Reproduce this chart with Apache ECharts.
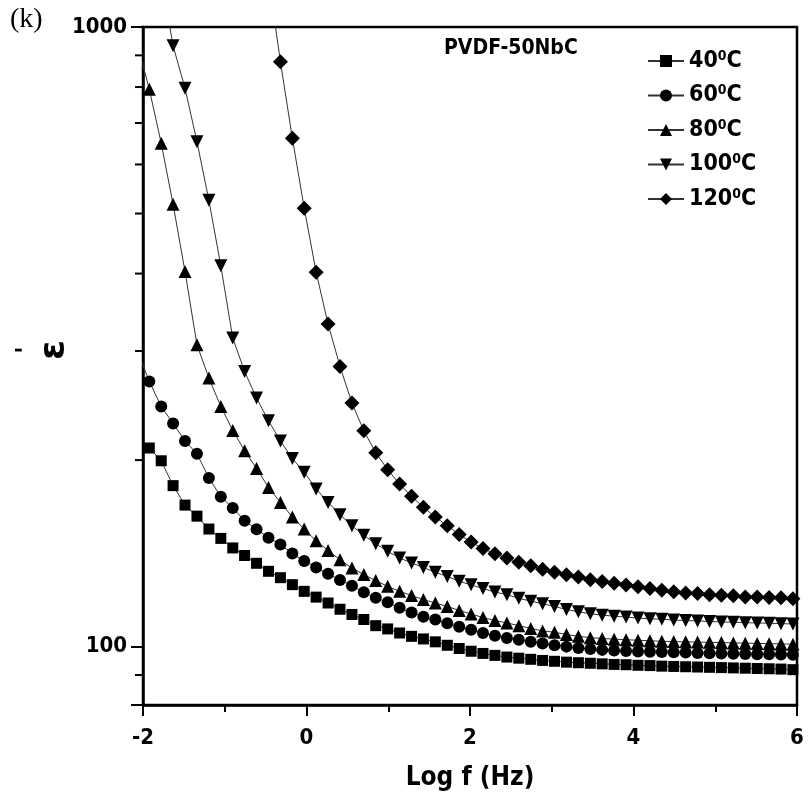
<!DOCTYPE html>
<html><head><meta charset="utf-8">
<script src="https://cdn.jsdelivr.net/npm/echarts@6/dist/echarts.min.js"></script>
<style>html,body{margin:0;padding:0;background:#fff}#c{width:809px;height:811px}</style>
</head><body><div id="c"></div><script>
// log10 of frequency (Hz)
const logF = [-2.069, -1.923, -1.777, -1.632, -1.486, -1.340, -1.194, -1.048, -0.902, -0.757, -0.611, -0.465, -0.319, -0.173, -0.028, 0.118, 0.264, 0.410, 0.556, 0.701, 0.847, 0.993, 1.139, 1.285, 1.430, 1.576, 1.722, 1.868, 2.014, 2.159, 2.305, 2.451, 2.597, 2.743, 2.888, 3.034, 3.180, 3.326, 3.472, 3.617, 3.763, 3.909, 4.055, 4.201, 4.346, 4.492, 4.638, 4.784, 4.930, 5.075, 5.221, 5.367, 5.513, 5.659, 5.804, 5.950];
const eps40 = [null, 209.2, 199.5, 181.9, 169.2, 162.4, 154.8, 149.5, 144.3, 140.3, 136.3, 132.3, 129.2, 125.9, 122.8, 120.2, 117.6, 114.9, 112.7, 110.6, 108.1, 106.8, 105.2, 103.9, 102.9, 101.8, 100.5, 99.3, 98.3, 97.5, 96.8, 96.2, 95.8, 95.4, 95.0, 94.7, 94.4, 94.2, 94.0, 93.8, 93.6, 93.5, 93.3, 93.2, 93.0, 92.9, 92.8, 92.7, 92.6, 92.5, 92.4, 92.3, 92.2, 92.1, 92.0, 91.8];
const eps60 = [300, 267.9, 244.1, 229.2, 214.7, 204.8, 187.1, 174.6, 167.4, 159.7, 154.7, 149.9, 146.1, 141.3, 137.5, 134.2, 131.1, 128.1, 125.4, 122.4, 119.9, 117.9, 115.5, 113.5, 111.7, 110.6, 109.1, 107.7, 106.5, 105.2, 104.1, 103.3, 102.6, 101.8, 101.2, 100.5, 100.0, 99.5, 99.1, 98.8, 98.6, 98.4, 98.2, 98.1, 98.0, 97.9, 97.8, 97.7, 97.6, 97.5, 97.4, 97.3, 97.2, 97.2, 97.1, 97.0];
const eps80 = [940, 793.5, 649.4, 517.3, 403.0, 307.0, 271.3, 244.1, 223.3, 207.1, 193.9, 180.7, 170.9, 161.9, 154.8, 148.2, 142.9, 138.1, 133.9, 130.7, 127.8, 125.1, 122.8, 120.9, 119.1, 117.6, 116.1, 114.4, 112.9, 111.4, 110.2, 109.2, 108.1, 107.0, 106.0, 105.5, 104.6, 103.9, 103.4, 103.1, 102.8, 102.6, 102.4, 102.2, 102.0, 101.9, 101.8, 101.7, 101.6, 101.5, 101.4, 101.3, 101.2, 101.1, 101.0, 100.9];
const eps100 = [null, null, 1200, 932.6, 796.4, 653.1, 525.1, 411.7, 314.8, 278.0, 251.9, 231.5, 214.7, 201.2, 191.2, 179.7, 170.9, 163.3, 156.7, 151.2, 146.6, 142.5, 139.0, 136.5, 134.2, 131.8, 129.8, 127.5, 125.8, 124.1, 122.5, 121.3, 119.7, 118.4, 117.3, 116.1, 114.8, 113.8, 113.0, 112.4, 112.0, 111.6, 111.2, 110.9, 110.7, 110.4, 110.2, 110.0, 109.8, 109.6, 109.5, 109.3, 109.2, 109.1, 108.9, 108.8];
const eps120 = [null, null, null, null, null, null, null, null, null, null, null, 1200, 879.2, 661.5, 510.1, 402.1, 331.5, 283.2, 247.2, 223.1, 205.6, 193.0, 183.0, 174.8, 167.8, 161.9, 156.7, 151.7, 147.5, 144.0, 141.2, 139.0, 136.8, 135.0, 133.3, 131.8, 130.6, 129.5, 128.2, 127.4, 126.5, 125.7, 124.9, 124.1, 123.3, 122.6, 122.1, 121.8, 121.3, 121.0, 120.8, 120.3, 120.3, 120.0, 119.9, 119.5];
const seriesNames = ['40°C', '60°C', '80°C', '100°C', '120°C'];
const xTickLabels = ['-2', '0', '2', '4', '6'];
const yTickLabels = ['100', '1000'];
const yMinorTicks = [90, 200, 300, 400, 500, 600, 700, 800, 900];

const NARROW = "'Liberation Sans Narrow','DejaVu Sans Condensed','Arial Narrow',sans-serif";
const allVals = [eps40, eps60, eps80, eps100, eps120];
const symbols = [
  {symbol: 'rect', size: 11, rotate: 0},
  {symbol: 'circle', size: 12, rotate: 0},
  {symbol: 'triangle', size: 13, rotate: 0},
  {symbol: 'triangle', size: 13, rotate: 180},
  {symbol: 'diamond', size: 15, rotate: 0}
];
function pairs(vals) {
  const out = [];
  logF.forEach((x, i) => { if (vals[i] != null) out.push([x, vals[i]]); });
  return out;
}
const lineSeries = seriesNames.map((n, i) => ({
  name: n, type: 'line', data: pairs(allVals[i]),
  symbol: symbols[i].symbol, symbolSize: symbols[i].size, symbolRotate: symbols[i].rotate,
  showAllSymbol: true, clip: true, z: 3,
  itemStyle: {color: '#000'},
  lineStyle: {color: '#333', width: 1}
}));
const chart = echarts.init(document.getElementById('c'), null, {renderer: 'canvas'});
chart.setOption({
  backgroundColor: '#fff',
  animation: false,
  grid: {left: 143, right: 12, top: 27, bottom: 106, containLabel: false, outerBoundsMode: 'none',
    show: true, borderColor: '#000', borderWidth: 2.5, backgroundColor: 'transparent'},
  xAxis: {
    type: 'value', min: -2, max: 6, interval: 2,
    axisLine: {onZero: false, lineStyle: {color: '#000', width: 2.5}},
    axisTick: {length: 11, lineStyle: {color: '#000', width: 2}},
    minorTick: {show: true, splitNumber: 2, length: 7, lineStyle: {color: '#000', width: 2}},
    splitLine: {show: false},
    axisLabel: {color: '#000', fontSize: 22, fontWeight: 'bold', fontFamily: NARROW, margin: 22,
      formatter: v => { const s = String(Math.round(v)); return xTickLabels.includes(s) ? s : ''; }},
    name: 'Log f (Hz)', nameLocation: 'middle', nameGap: 60, nameMoveOverlap: false,
    nameTextStyle: {color: '#000', fontSize: 26, fontWeight: 'bold', fontFamily: NARROW}
  },
  yAxis: {
    type: 'log', logBase: 10, min: 80.5, max: 1000,
    axisLine: {onZero: false, lineStyle: {color: '#000', width: 2.5}},
    axisTick: {length: 12, lineStyle: {color: '#000', width: 2}},
    splitLine: {show: false},
    axisLabel: {color: '#000', fontSize: 22, fontWeight: 'bold', fontFamily: NARROW, margin: 16,
      formatter: v => { const s = String(Math.round(v)); return yTickLabels.includes(s) ? s : ''; }},
    name: "{p|'}\n{e|ε}", nameLocation: 'middle', nameRotate: 90, nameGap: 71, nameMoveOverlap: false,
    nameTextStyle: {color: '#000', padding: [0, 0, 0, 32],
      rich: {p: {fontSize: 24, fontWeight: 'bold', fontFamily: 'DejaVu Sans', lineHeight: 22},
             e: {fontSize: 36, fontWeight: 'bold', fontFamily: 'DejaVu Sans', lineHeight: 34}}}
  },
  legend: {
    data: seriesNames, orient: 'vertical', left: 642, top: 44,
    itemWidth: 36, itemHeight: 15, itemGap: 11,
    textStyle: {color: '#000', fontSize: 23, fontWeight: 'bold', fontFamily: NARROW,
      rich: {a: {fontSize: 23, fontWeight: 'bold', fontFamily: NARROW, color: '#000', lineHeight: 24},
             s: {fontSize: 14, fontWeight: 'bold', fontFamily: NARROW, color: '#000', lineHeight: 14, verticalAlign: 'top'}}},
    formatter: n => '{a|' + n.replace('°C', '') + '}{s|0}{a|C}'
  },
  graphic: [
    {type: 'text', left: 10, top: 6, style: {text: '(k)', font: "28px 'Liberation Serif', serif", fill: '#000'}},
    {type: 'text', left: 444, top: 38, style: {text: 'PVDF-50NbC', font: "bold 21px " + NARROW, fill: '#000'}}
  ],
  series: lineSeries.concat([{
    type: 'custom', silent: true, clip: false, z: 4,
    data: yMinorTicks.map(v => [-2, v]),
    renderItem: (params, api) => {
      const p = api.coord([api.value(0), api.value(1)]);
      return {type: 'line', shape: {x1: p[0] - 8, y1: p[1], x2: p[0], y2: p[1]}, style: {stroke: '#000', lineWidth: 2}};
    }
  }])
});
</script></body></html>
